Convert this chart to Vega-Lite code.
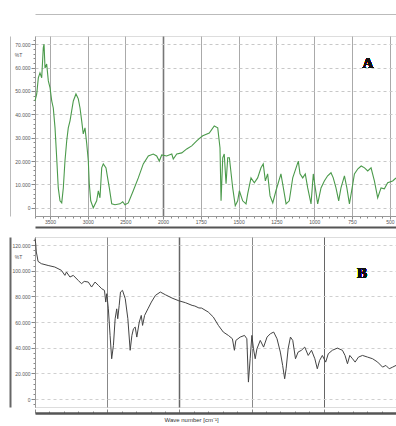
{
  "$schema": "https://vega.github.io/schema/vega-lite/v6.json",
  "padding": {"left": 9, "top": 13, "right": 0, "bottom": 0},
  "background": "white",
  "spacing": 0,
  "config": {
    "view": {"stroke": "#dddddd"},
    "axis": {"labelFont": "Liberation Sans", "titleFont": "Liberation Sans", "labelOverlap": false, "labelFlush": false}
  },
  "vconcat": [
    {
      "width": 361,
      "height": 180,
      "data": {"values": [
        {"wn":3700,"t":45.7},{"wn":3677,"t":48.7},{"wn":3656,"t":55.6},{"wn":3634,"t":57.7},{"wn":3611,"t":55.6},{"wn":3590,"t":68.4},{"wn":3580,"t":70},{"wn":3567,"t":59.8},{"wn":3545,"t":61.5},{"wn":3523,"t":54.3},{"wn":3500,"t":51.3},{"wn":3478,"t":45.7},{"wn":3457,"t":42.7},{"wn":3434,"t":34.2},{"wn":3412,"t":21.4},{"wn":3391,"t":8.5},{"wn":3368,"t":3},{"wn":3345,"t":2.1},{"wn":3324,"t":8.5},{"wn":3302,"t":20},{"wn":3279,"t":28.6},{"wn":3258,"t":34.2},{"wn":3235,"t":37.2},{"wn":3213,"t":41.5},{"wn":3191,"t":45.7},{"wn":3156,"t":48.7},{"wn":3125,"t":46.6},{"wn":3102,"t":42.7},{"wn":3080,"t":37.2},{"wn":3059,"t":31.6},{"wn":3036,"t":34.2},{"wn":3013,"t":27.4},{"wn":2992,"t":20},{"wn":2979,"t":10.3},{"wn":2960,"t":3},{"wn":2926,"t":0},{"wn":2881,"t":3},{"wn":2859,"t":7.3},{"wn":2837,"t":4.3},{"wn":2814,"t":17.1},{"wn":2793,"t":18.8},{"wn":2757,"t":17.1},{"wn":2740,"t":13.7},{"wn":2713,"t":8.5},{"wn":2681,"t":1.7},{"wn":2638,"t":1.3},{"wn":2571,"t":1.7},{"wn":2535,"t":2.6},{"wn":2505,"t":1.3},{"wn":2461,"t":2.1},{"wn":2395,"t":7.3},{"wn":2328,"t":12.8},{"wn":2262,"t":18.8},{"wn":2195,"t":22.2},{"wn":2129,"t":23},{"wn":2084,"t":22.2},{"wn":2049,"t":20},{"wn":2017,"t":22.6},{"wn":1976,"t":22.2},{"wn":1942,"t":23},{"wn":1932,"t":20.9},{"wn":1909,"t":23},{"wn":1876,"t":23.5},{"wn":1843,"t":25.2},{"wn":1810,"t":26.5},{"wn":1777,"t":28.6},{"wn":1755,"t":29.9},{"wn":1737,"t":30.8},{"wn":1694,"t":32},{"wn":1661,"t":35},{"wn":1638,"t":34.2},{"wn":1623,"t":25.6},{"wn":1616,"t":3},{"wn":1605,"t":21.4},{"wn":1595,"t":23},{"wn":1583,"t":10.3},{"wn":1572,"t":21.4},{"wn":1561,"t":21.4},{"wn":1539,"t":8.5},{"wn":1522,"t":0.9},{"wn":1506,"t":3},{"wn":1495,"t":7.3},{"wn":1473,"t":3},{"wn":1451,"t":1.7},{"wn":1440,"t":6},{"wn":1418,"t":12.8},{"wn":1396,"t":10.7},{"wn":1374,"t":12.8},{"wn":1352,"t":17.1},{"wn":1337,"t":18.8},{"wn":1323,"t":11.5},{"wn":1308,"t":14.5},{"wn":1292,"t":5.1},{"wn":1274,"t":2.1},{"wn":1253,"t":7.3},{"wn":1220,"t":14.5},{"wn":1204,"t":8.5},{"wn":1186,"t":1.7},{"wn":1165,"t":3},{"wn":1142,"t":12.8},{"wn":1120,"t":17.1},{"wn":1105,"t":20},{"wn":1094,"t":14.5},{"wn":1076,"t":12.8},{"wn":1059,"t":14.5},{"wn":1043,"t":8.5},{"wn":1021,"t":1.7},{"wn":1006,"t":14.5},{"wn":993,"t":8.5},{"wn":977,"t":1.7},{"wn":955,"t":8.5},{"wn":933,"t":11.5},{"wn":911,"t":13.7},{"wn":889,"t":15},{"wn":874,"t":12.8},{"wn":856,"t":8.5},{"wn":838,"t":3},{"wn":823,"t":8.5},{"wn":800,"t":13.7},{"wn":784,"t":8.5},{"wn":767,"t":1.7},{"wn":749,"t":8.5},{"wn":734,"t":14.5},{"wn":711,"t":16.7},{"wn":689,"t":17.9},{"wn":667,"t":17.1},{"wn":646,"t":15.8},{"wn":624,"t":17.1},{"wn":602,"t":11.5},{"wn":580,"t":4.3},{"wn":558,"t":8.5},{"wn":536,"t":8.1},{"wn":514,"t":10.7},{"wn":481,"t":11.5},{"wn":459,"t":12.8}
      ]},
      "encoding": {
        "y": {
          "field": "t", "type": "quantitative",
          "scale": {"domain": [-3.5, 73.5], "nice": false, "zero": false},
          "axis": {
            "values": [0,2,4,6,8,10,12,14,16,18,20,22,24,26,28,30,32,34,36,38,40,42,44,46,48,50,52,54,56,58,60,62,64,66,68,70,72],
            "labelExpr": "datum.value % 10 == 0 ? (datum.value == 0 ? '0' : format(datum.value, '.3f')) : ''",
            "labelFontSize": 5, "labelColor": "#555555", "labelPadding": 1,
            "tickSize": {"condition": {"test": "datum.value % 10 == 0", "value": 4}, "value": 2},
            "tickColor": "#888888", "domainColor": "#999999",
            "grid": true, "gridDash": [3, 3], "gridColor": "#c8c8c8",
            "gridOpacity": {"condition": {"test": "datum.value % 10 == 0", "value": 1}, "value": 0},
            "title": "%T", "titleAngle": 0, "titleX": -17, "titleY": 18, "titleFontSize": 5,
            "titleFontWeight": "normal", "titleAlign": "center", "titleBaseline": "middle", "titleColor": "#555555"
          }
        }
      },
      "layer": [
        {
          "mark": {"type": "line", "color": "#4b9a4b", "strokeWidth": 1.1},
          "encoding": {
            "x": {
              "field": "wn", "type": "quantitative",
              "scale": {"domain": [3700, 2000, 459], "range": [0, 128, 361], "nice": false, "zero": false},
              "axis": {
                "orient": "bottom",
                "values": [3700,3600,3500,3400,3300,3200,3100,3000,2900,2800,2700,2600,2500,2400,2300,2200,2100,2000,1950,1900,1850,1800,1750,1700,1650,1600,1550,1500,1450,1400,1350,1300,1250,1200,1150,1100,1050,1000,950,900,850,800,750,700,650,600,550,500],
                "format": "d",
                "labelExpr": "(datum.value >= 2000 ? datum.value % 500 == 0 : datum.value % 250 == 0) ? datum.label : ''",
                "labelFontSize": 5, "labelColor": "#555555", "labelPadding": 0,
                "tickSize": {"condition": {"test": "(datum.value >= 2000 ? datum.value % 500 == 0 : datum.value % 250 == 0)", "value": 3}, "value": 2},
                "tickColor": "#888888", "domainColor": "#999999",
                "grid": true,
                "gridColor": {"condition": {"test": "datum.value == 2000", "value": "#777777"}, "value": "#aaaaaa"},
                "gridWidth": {"condition": {"test": "datum.value == 2000", "value": 1.6}, "value": 1},
                "gridOpacity": {"condition": {"test": "(datum.value >= 2000 ? datum.value % 500 == 0 : datum.value % 250 == 0)", "value": 1}, "value": 0},
                "title": null, "minExtent": 9, "maxExtent": 9
              }
            }
          }
        },
        {
          "mark": {"type": "line", "opacity": 0},
          "encoding": {
            "x": {
              "field": "wn", "type": "quantitative",
              "axis": {"orient": "top", "offset": 22, "domainColor": "#bbbbbb", "domainWidth": 1, "ticks": false, "labels": false, "grid": false, "title": null}
            },
            "y": {
              "field": "t", "type": "quantitative",
              "axis": {"orient": "left", "offset": 25, "domainColor": "#bbbbbb", "domainWidth": 1, "ticks": false, "labels": false, "grid": false, "title": null}
            }
          }
        },
        {
          "mark": {"type": "text", "font": "Liberation Serif", "fontWeight": "bold", "fontSize": 15, "color": "#111111"},
          "encoding": {
            "x": {"datum": 644, "type": "quantitative", "axis": null},
            "y": {"datum": 62, "type": "quantitative", "axis": null},
            "text": {"value": "A"}
          }
        }
      ],
      "resolve": {"axis": {"x": "independent", "y": "independent"}}
    },
    {
      "width": 361,
      "height": 170,
      "data": {"values": [
        {"wn":4000,"t":125},{"wn":3995,"t":121},{"wn":3991,"t":114.6},{"wn":3984,"t":110.7},{"wn":3979,"t":107.3},{"wn":3956,"t":105.5},{"wn":3909,"t":104.1},{"wn":3863,"t":102.9},{"wn":3817,"t":100.3},{"wn":3793,"t":96.4},{"wn":3782,"t":99},{"wn":3758,"t":95.1},{"wn":3735,"t":96.4},{"wn":3701,"t":92.5},{"wn":3678,"t":89.9},{"wn":3659,"t":91.7},{"wn":3631,"t":91.2},{"wn":3608,"t":87.3},{"wn":3584,"t":91.2},{"wn":3561,"t":88.6},{"wn":3538,"t":86},{"wn":3519,"t":84.7},{"wn":3510,"t":75.6},{"wn":3503,"t":82.1},{"wn":3492,"t":70.3},{"wn":3480,"t":49.6},{"wn":3469,"t":31.4},{"wn":3457,"t":41.8},{"wn":3445,"t":62.6},{"wn":3434,"t":70.3},{"wn":3427,"t":62.6},{"wn":3417,"t":73},{"wn":3408,"t":83.4},{"wn":3394,"t":84.7},{"wn":3375,"t":78.2},{"wn":3357,"t":62.6},{"wn":3341,"t":38},{"wn":3329,"t":49.6},{"wn":3318,"t":54.8},{"wn":3306,"t":56.1},{"wn":3295,"t":48.3},{"wn":3278,"t":60},{"wn":3264,"t":65.2},{"wn":3255,"t":57.4},{"wn":3241,"t":65.2},{"wn":3218,"t":70.3},{"wn":3194,"t":75.6},{"wn":3166,"t":80.8},{"wn":3132,"t":83.4},{"wn":3097,"t":81.3},{"wn":3051,"t":78.7},{"wn":3004,"t":76.6},{"wn":2958,"t":75.1},{"wn":2912,"t":73},{"wn":2893,"t":72.5},{"wn":2865,"t":71},{"wn":2846,"t":70.9},{"wn":2800,"t":67.8},{"wn":2765,"t":63.9},{"wn":2730,"t":57.4},{"wn":2696,"t":52.2},{"wn":2661,"t":49.6},{"wn":2633,"t":47},{"wn":2619,"t":38},{"wn":2609,"t":45.7},{"wn":2579,"t":48.3},{"wn":2549,"t":49.6},{"wn":2533,"t":47},{"wn":2522,"t":13.2},{"wn":2510,"t":31.4},{"wn":2498,"t":49.6},{"wn":2487,"t":39.2},{"wn":2475,"t":31.4},{"wn":2463,"t":39.2},{"wn":2440,"t":45.7},{"wn":2417,"t":40.5},{"wn":2393,"t":48.3},{"wn":2370,"t":50.9},{"wn":2347,"t":52.2},{"wn":2324,"t":47},{"wn":2301,"t":36.6},{"wn":2285,"t":26.2},{"wn":2271,"t":15.8},{"wn":2261,"t":23.6},{"wn":2247,"t":39.2},{"wn":2231,"t":48.3},{"wn":2215,"t":45.7},{"wn":2196,"t":31.4},{"wn":2178,"t":36.6},{"wn":2155,"t":38},{"wn":2132,"t":40.5},{"wn":2108,"t":34},{"wn":2085,"t":38},{"wn":2062,"t":31.4},{"wn":2045,"t":23.6},{"wn":2029,"t":30.1},{"wn":2010,"t":34},{"wn":1987,"t":28.8},{"wn":1969,"t":35.3},{"wn":1941,"t":38},{"wn":1906,"t":39.7},{"wn":1871,"t":38},{"wn":1853,"t":34},{"wn":1836,"t":27.5},{"wn":1820,"t":34},{"wn":1801,"t":31.4},{"wn":1783,"t":28.8},{"wn":1760,"t":32.7},{"wn":1732,"t":34},{"wn":1697,"t":32.7},{"wn":1662,"t":31.4},{"wn":1627,"t":28.8},{"wn":1593,"t":24.9},{"wn":1570,"t":26.2},{"wn":1547,"t":23.6},{"wn":1523,"t":24.9},{"wn":1500,"t":26.2}
      ]},
      "encoding": {
        "y": {
          "field": "t", "type": "quantitative",
          "scale": {"domain": [-6.2, 126.3], "nice": false, "zero": false},
          "axis": {
            "values": [-4,0,4,8,12,16,20,24,28,32,36,40,44,48,52,56,60,64,68,72,76,80,84,88,92,96,100,104,108,112,116,120,124],
            "labelExpr": "datum.value % 20 == 0 ? (datum.value == 0 ? '0' : format(datum.value, '.3f')) : ''",
            "labelFontSize": 5, "labelColor": "#555555", "labelPadding": 1,
            "tickSize": {"condition": {"test": "datum.value % 20 == 0", "value": 4}, "value": 2},
            "tickColor": "#888888", "domainColor": "#999999",
            "grid": true, "gridDash": [3, 3], "gridColor": "#d0d0d0",
            "gridOpacity": {"condition": {"test": "datum.value % 20 == 0", "value": 1}, "value": 0},
            "title": "%T", "titleAngle": 0, "titleX": -17, "titleY": 19, "titleFontSize": 5,
            "titleFontWeight": "normal", "titleAlign": "center", "titleBaseline": "middle", "titleColor": "#555555"
          }
        }
      },
      "layer": [
        {
          "mark": {"type": "line", "color": "#444444", "strokeWidth": 1},
          "encoding": {
            "x": {
              "field": "wn", "type": "quantitative",
              "scale": {"domain": [4000, 1500], "nice": false, "zero": false},
              "axis": {
                "orient": "bottom", "offset": 6,
                "values": [4000,3900,3800,3700,3600,3500,3400,3300,3200,3100,3000,2900,2800,2700,2600,2500,2400,2300,2200,2100,2000,1900,1800,1700,1600,1500],
                "labels": false,
                "tickSize": {"condition": {"test": "datum.value % 500 == 0", "value": -4}, "value": -2},
                "tickColor": "#888888", "domainColor": "#555555", "domainWidth": 2.5,
                "grid": true,
                "gridColor": {"condition": {"test": "datum.value == 3000 || datum.value == 2000", "value": "#666666"}, "value": "#888888"},
                "gridWidth": {"condition": {"test": "datum.value == 3000", "value": 1.5}, "value": 1},
                "gridOpacity": {"condition": {"test": "datum.value % 500 == 0", "value": 1}, "value": 0},
                "title": "Wave number [cm⁻¹]", "titleFontSize": 6, "titleFontWeight": "normal", "titleColor": "#333333",
                "titlePadding": 3, "titleX": 156
              }
            }
          }
        },
        {
          "mark": {"type": "line", "opacity": 0},
          "encoding": {
            "x": {
              "field": "wn", "type": "quantitative",
              "axis": {"orient": "top", "offset": 10, "domainColor": "#555555", "domainWidth": 2, "ticks": false, "labels": false, "grid": false, "title": null}
            },
            "y": {
              "field": "t", "type": "quantitative",
              "axis": {"orient": "left", "offset": 25, "domainColor": "#666666", "domainWidth": 2, "ticks": false, "labels": false, "grid": false, "title": null}
            }
          }
        },
        {
          "mark": {"type": "text", "font": "Liberation Serif", "fontWeight": "bold", "fontSize": 15, "color": "#111111"},
          "encoding": {
            "x": {"datum": 1735, "type": "quantitative", "axis": null},
            "y": {"datum": 98, "type": "quantitative", "axis": null},
            "text": {"value": "B"}
          }
        }
      ],
      "resolve": {"axis": {"x": "independent", "y": "independent"}}
    }
  ]
}
